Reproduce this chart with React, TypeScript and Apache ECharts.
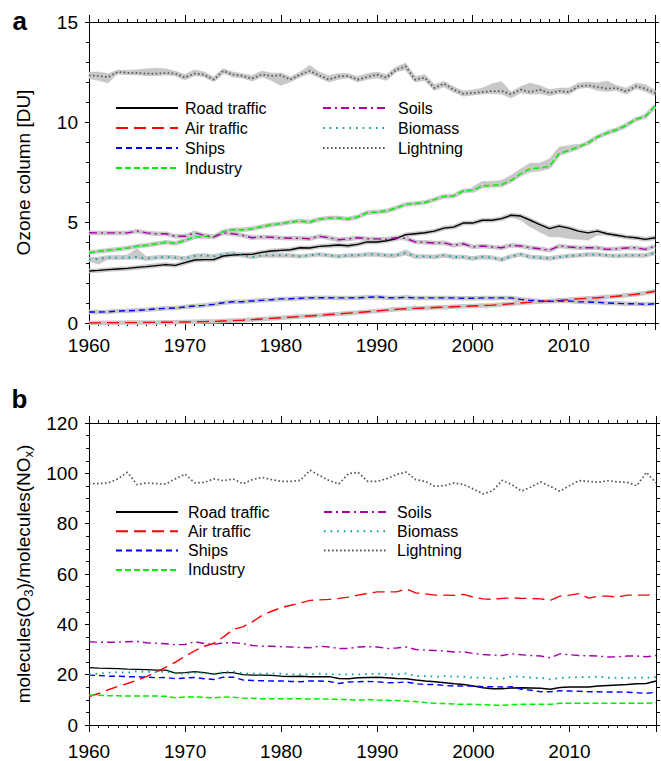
import React, { useEffect, useRef } from "react";
import * as echarts from "echarts";

const FONT = '"Liberation Sans", Arial, Helvetica, sans-serif';

// 1960 ... 2019
const years: number[] = Array.from({ length: 60 }, (_, i) => 1960 + i);

const seriesNames = ["Road traffic", "Air traffic", "Ships", "Industry", "Soils", "Biomass", "Lightning"];
const legendLeftNames = ["Road traffic", "Air traffic", "Ships", "Industry"];
const legendRightNames = ["Soils", "Biomass", "Lightning"];

// ---- Panel a: ozone column [DU] ----
const roadA = [
  2.59, 2.62, 2.66, 2.69, 2.72, 2.77, 2.81, 2.86, 2.91, 2.87,
  3.01, 3.14, 3.16, 3.16, 3.34, 3.39, 3.41, 3.42, 3.52, 3.59,
  3.62, 3.65, 3.75, 3.74, 3.82, 3.85, 3.89, 3.85, 3.92, 4.04,
  4.04, 4.10, 4.20, 4.40, 4.45, 4.50, 4.58, 4.73, 4.78, 4.98,
  4.98, 5.12, 5.12, 5.20, 5.37, 5.33, 5.12, 4.90, 4.70, 4.83,
  4.73, 4.58, 4.49, 4.58, 4.45, 4.37, 4.29, 4.25, 4.17, 4.25,
];
const airA = [
  0.00, 0.00, 0.01, 0.01, 0.02, 0.02, 0.03, 0.03, 0.04, 0.04,
  0.05, 0.06, 0.07, 0.08, 0.10, 0.12, 0.14, 0.17, 0.20, 0.23,
  0.26, 0.29, 0.32, 0.35, 0.38, 0.42, 0.45, 0.49, 0.52, 0.56,
  0.60, 0.64, 0.68, 0.71, 0.73, 0.75, 0.77, 0.79, 0.81, 0.83,
  0.85, 0.87, 0.89, 0.92, 0.96, 1.00, 1.04, 1.07, 1.10, 1.13,
  1.16, 1.20, 1.23, 1.26, 1.30, 1.33, 1.38, 1.43, 1.50, 1.58,
];
const shipsA = [
  0.55, 0.55, 0.56, 0.60, 0.61, 0.63, 0.66, 0.70, 0.73, 0.75,
  0.80, 0.85, 0.88, 0.93, 1.01, 1.06, 1.06, 1.10, 1.13, 1.16,
  1.20, 1.21, 1.23, 1.25, 1.26, 1.26, 1.25, 1.25, 1.26, 1.28,
  1.30, 1.26, 1.25, 1.28, 1.25, 1.25, 1.25, 1.25, 1.25, 1.23,
  1.23, 1.25, 1.25, 1.25, 1.25, 1.18, 1.13, 1.10, 1.08, 1.10,
  1.10, 1.06, 1.05, 1.03, 1.00, 0.98, 0.96, 0.96, 0.93, 0.96,
];
const industryA = [
  3.50, 3.57, 3.62, 3.67, 3.74, 3.82, 3.87, 3.95, 4.02, 3.97,
  4.12, 4.29, 4.32, 4.29, 4.55, 4.65, 4.65, 4.70, 4.80, 4.90,
  4.95, 5.03, 5.08, 5.03, 5.17, 5.23, 5.23, 5.18, 5.28, 5.50,
  5.53, 5.58, 5.73, 5.91, 5.95, 6.00, 6.15, 6.31, 6.33, 6.58,
  6.61, 6.83, 6.86, 6.89, 7.11, 7.44, 7.69, 7.72, 7.81, 8.44,
  8.60, 8.77, 8.97, 9.27, 9.47, 9.63, 9.85, 10.15, 10.30, 10.80,
];
const soilsA = [
  4.50, 4.49, 4.49, 4.49, 4.49, 4.58, 4.49, 4.45, 4.45, 4.32,
  4.32, 4.49, 4.37, 4.29, 4.49, 4.45, 4.37, 4.25, 4.29, 4.27,
  4.24, 4.22, 4.22, 4.20, 4.32, 4.25, 4.15, 4.19, 4.25, 4.20,
  4.19, 4.17, 4.25, 4.22, 4.04, 4.02, 3.99, 4.00, 3.87, 3.95,
  3.79, 3.84, 3.79, 3.75, 3.87, 3.84, 3.75, 3.70, 3.62, 3.84,
  3.79, 3.75, 3.75, 3.75, 3.67, 3.70, 3.74, 3.75, 3.67, 3.82,
];
const biomassA = [
  3.17, 3.19, 3.26, 3.26, 3.26, 3.29, 3.21, 3.26, 3.29, 3.26,
  3.21, 3.34, 3.37, 3.32, 3.42, 3.46, 3.37, 3.29, 3.37, 3.37,
  3.37, 3.37, 3.32, 3.37, 3.42, 3.37, 3.32, 3.37, 3.37, 3.42,
  3.41, 3.37, 3.37, 3.49, 3.32, 3.32, 3.29, 3.37, 3.29, 3.29,
  3.21, 3.29, 3.26, 3.16, 3.32, 3.42, 3.29, 3.26, 3.21, 3.29,
  3.34, 3.37, 3.41, 3.41, 3.37, 3.34, 3.37, 3.37, 3.37, 3.50,
];
const lightningA = [
  12.34, 12.31, 12.26, 12.51, 12.47, 12.46, 12.43, 12.43, 12.46, 12.43,
  12.23, 12.43, 12.38, 12.13, 12.56, 12.38, 12.31, 12.18, 12.38, 12.31,
  12.34, 12.13, 12.38, 12.56, 12.34, 12.13, 12.29, 12.31, 12.13, 12.26,
  12.38, 12.23, 12.62, 12.79, 12.13, 12.23, 11.71, 11.93, 11.63, 11.43,
  11.46, 11.51, 11.56, 11.56, 11.40, 11.63, 11.51, 11.63, 11.46, 11.56,
  11.51, 11.79, 11.84, 11.76, 11.68, 11.71, 11.54, 11.79, 11.68, 11.46,
];

// Ensemble ranges (min / max) in panel a
const lightningMinA = [
  12.18, 12.09, 11.96, 12.43, 12.38, 12.38, 12.34, 12.34, 12.38, 12.34,
  12.13, 12.34, 12.26, 12.04, 12.46, 12.26, 12.21, 12.06, 12.26, 12.09,
  11.84, 12.01, 12.26, 12.43, 12.23, 12.01, 12.13, 12.23, 12.01, 12.13,
  12.21, 12.09, 12.51, 12.62, 12.01, 12.09, 11.59, 11.76, 11.51, 11.30,
  11.36, 11.43, 11.43, 11.40, 11.21, 11.46, 11.40, 11.43, 11.33, 11.43,
  11.40, 11.68, 11.76, 11.59, 11.54, 11.59, 11.40, 11.68, 11.54, 11.31,
];
const lightningMaxA = [
  12.51, 12.51, 12.43, 12.59, 12.59, 12.62, 12.67, 12.71, 12.67, 12.54,
  12.39, 12.62, 12.51, 12.26, 12.67, 12.51, 12.43, 12.34, 12.56, 12.46,
  12.46, 12.26, 12.51, 12.84, 12.51, 12.34, 12.43, 12.43, 12.29, 12.43,
  12.51, 12.38, 12.76, 12.96, 12.29, 12.38, 11.88, 12.04, 11.79, 11.56,
  11.61, 11.71, 11.92, 12.04, 11.51, 11.79, 11.96, 11.84, 11.63, 11.71,
  11.71, 11.96, 12.01, 11.96, 12.06, 11.84, 11.71, 11.96, 11.88, 11.61,
];
const industryRangeYears = [2000, 2001, 2002, 2003, 2004, 2005, 2006, 2007, 2008, 2009, 2010, 2011];
const industryMinA = [6.50, 6.74, 6.78, 6.78, 7.03, 7.31, 7.52, 7.57, 7.69, 8.36, 8.52, 8.65];
const industryMaxA = [6.78, 7.06, 7.06, 7.11, 7.36, 7.69, 7.97, 7.97, 8.19, 8.77, 8.85, 8.92];
const roadRangeYears = [2003, 2004, 2005, 2006, 2007, 2008, 2009, 2010, 2011, 2012, 2013, 2014];
const roadMinA = [5.12, 5.28, 5.12, 4.78, 4.53, 4.29, 4.29, 4.20, 4.17, 4.12, 4.37, 4.38];
const roadMaxA = [5.30, 5.45, 5.42, 5.20, 4.98, 4.78, 4.87, 4.78, 4.65, 4.57, 4.62, 4.52];
const biomassRangeYears = [1960, 1961, 1962, 1963, 1964, 1965, 1966, 1967];
const biomassMinA = [3.08, 2.93, 3.18, 3.19, 3.19, 3.22, 3.14, 3.19];
const biomassMaxA = [3.28, 3.28, 3.33, 3.33, 3.40, 3.71, 3.30, 3.33];
const biomassRangeYears2 = [1992, 1993, 1994];
const biomassMinA2 = [3.30, 3.40, 3.25];
const biomassMaxA2 = [3.45, 3.65, 3.40];

// ---- Panel b: molecules(O3)/molecules(NOx) ----
const roadB = [
  22.8, 22.6, 22.5, 22.4, 22.2, 22.1, 22.0, 21.8, 21.8, 20.6,
  20.8, 21.2, 20.8, 20.2, 20.8, 20.8, 20.0, 19.8, 19.8, 19.7,
  19.4, 19.3, 19.4, 19.2, 19.2, 19.2, 18.5, 18.4, 18.8, 18.9,
  19.0, 18.8, 18.5, 18.4, 17.9, 17.5, 17.2, 16.8, 16.4, 16.1,
  15.5, 14.8, 14.4, 14.4, 14.7, 14.8, 14.7, 14.6, 14.2, 14.9,
  15.1, 15.1, 15.1, 15.5, 15.7, 15.9, 16.1, 16.4, 16.5, 17.5,
];
const airB = [
  11.3, 12.5, 14.0, 15.3, 16.5, 17.8, 19.3, 21.0, 23.0, 25.0,
  27.3, 29.5, 31.3, 32.5, 35.0, 38.0, 39.0, 41.0, 43.5, 45.2,
  46.6, 47.6, 48.5, 49.5, 49.7, 49.9, 50.3, 50.8, 51.6, 52.3,
  52.9, 52.9, 52.9, 54.1, 52.5, 52.1, 51.6, 51.6, 51.5, 51.9,
  50.8, 50.1, 49.9, 50.3, 50.5, 50.3, 50.3, 50.1, 49.5, 51.2,
  51.6, 52.2, 50.4, 51.2, 51.2, 50.8, 51.6, 51.6, 51.6, 51.9,
];
const shipsB = [
  19.8, 19.7, 19.4, 19.4, 19.2, 19.2, 19.0, 18.8, 18.9, 18.4,
  18.7, 18.9, 18.4, 18.1, 19.0, 19.0, 17.9, 17.7, 17.6, 17.5,
  17.5, 17.3, 17.2, 17.5, 17.5, 17.3, 16.5, 17.1, 17.2, 17.3,
  17.2, 16.8, 16.8, 17.1, 16.4, 16.1, 16.1, 15.7, 15.5, 15.5,
  15.5, 15.2, 15.2, 15.1, 15.2, 14.2, 13.8, 13.2, 13.2, 13.6,
  13.5, 13.4, 13.2, 13.2, 13.1, 13.1, 13.0, 12.8, 12.6, 13.0,
];
const industryB = [
  11.9, 11.8, 11.6, 11.6, 11.5, 11.5, 11.5, 11.5, 11.4, 10.8,
  11.1, 11.1, 11.0, 10.8, 11.1, 11.0, 10.7, 10.6, 10.4, 10.4,
  10.4, 10.4, 10.4, 10.3, 10.4, 10.3, 10.2, 10.1, 9.9, 10.1,
  9.9, 9.8, 9.7, 9.5, 9.3, 8.9, 8.6, 8.5, 8.3, 8.2,
  8.2, 8.1, 7.9, 7.8, 8.1, 8.2, 8.2, 8.2, 8.2, 8.6,
  8.6, 8.6, 8.6, 8.6, 8.6, 8.6, 8.6, 8.6, 8.6, 8.9,
];
const soilsB = [
  33.1, 32.9, 32.9, 32.9, 33.1, 33.2, 32.7, 32.5, 32.3, 31.9,
  32.0, 33.1, 32.4, 32.0, 32.7, 32.7, 32.3, 31.6, 31.3, 31.3,
  31.1, 31.0, 30.8, 30.7, 31.3, 31.0, 30.4, 30.4, 31.0, 31.1,
  31.0, 30.4, 30.6, 31.0, 30.0, 29.8, 29.6, 29.4, 29.0, 29.1,
  28.4, 28.0, 27.8, 27.6, 28.3, 27.9, 27.6, 27.4, 26.7, 28.3,
  27.9, 27.6, 27.5, 27.4, 27.0, 27.1, 27.4, 27.4, 27.1, 27.6,
];
const biomassB = [
  20.1, 20.4, 20.8, 21.0, 20.8, 21.3, 21.2, 21.0, 21.3, 20.5,
  20.4, 20.8, 20.6, 20.2, 21.0, 21.3, 20.5, 20.4, 20.4, 20.4,
  20.4, 20.1, 20.1, 20.1, 20.4, 20.1, 20.1, 20.1, 20.1, 20.2,
  20.4, 20.1, 20.1, 20.5, 19.4, 19.4, 19.2, 19.4, 19.2, 19.2,
  18.8, 18.8, 18.5, 18.4, 19.2, 19.2, 18.8, 18.7, 18.1, 18.7,
  18.9, 19.0, 19.0, 19.2, 18.8, 18.7, 18.7, 18.8, 18.8, 19.0,
];
const lightningB = [
  95.9, 95.9, 96.2, 97.8, 100.4, 95.5, 96.2, 95.9, 95.8, 97.8,
  99.7, 96.2, 96.4, 97.8, 97.1, 97.8, 95.8, 97.5, 98.4, 97.5,
  96.8, 96.8, 97.2, 101.2, 99.1, 97.1, 95.8, 99.9, 100.4, 96.8,
  96.8, 97.9, 99.5, 100.5, 97.5, 96.8, 94.8, 95.1, 96.2, 95.5,
  93.8, 91.8, 93.1, 97.2, 95.5, 92.9, 94.6, 96.6, 94.8, 92.9,
  95.1, 97.1, 96.8, 96.4, 97.1, 96.6, 96.4, 95.1, 100.4, 96.2,
];

const lineLook: Record<string, { color: string; type: any; width: number }> = {
  "Road traffic": { color: "#000000", type: "solid", width: 1.4 },
  "Air traffic": { color: "#ff0000", type: [12, 6], width: 1.4 },
  Ships: { color: "#0000ff", type: [6, 4], width: 1.4 },
  Industry: { color: "#00ee00", type: [6, 3], width: 1.5 },
  Soils: { color: "#aa00aa", type: [8, 4, 2, 4], width: 1.4 },
  Biomass: { color: "#00a0a0", type: [1.6, 5], width: 1.8 },
  Lightning: { color: "#555555", type: [1.6, 2.4], width: 1.7 },
};

const BAND = "#c8c8c8";

function pairs(xs: number[], vs: number[]) {
  return xs.map((x, i) => [x, vs[i]]);
}

function mainLine(name: string, values: number[], axis: number) {
  const look = lineLook[name];
  return {
    type: "line",
    name,
    xAxisIndex: axis * 2,
    yAxisIndex: axis * 2,
    data: pairs(years, values),
    symbol: "none",
    silent: true,
    z: 4,
    lineStyle: { color: look.color, type: look.type, width: look.width, cap: "butt" },
    itemStyle: { color: look.color },
  };
}

function haloLine(name: string, values: number[]) {
  return {
    type: "line",
    name: name + " halo",
    xAxisIndex: 0,
    yAxisIndex: 0,
    data: pairs(years, values),
    symbol: "none",
    silent: true,
    z: 3,
    lineStyle: { color: BAND, width: 4.5, type: "solid" },
  };
}

function rangeBand(id: string, xs: number[], lo: number[], hi: number[]) {
  return {
    type: "custom",
    name: id,
    xAxisIndex: 0,
    yAxisIndex: 0,
    silent: true,
    z: 2,
    data: xs.map((x, i) => [x, lo[i], hi[i]]),
    encode: { x: 0, y: [1, 2] },
    renderItem: (params: any, api: any) => {
      if (params.dataIndex !== 0) return null;
      const upper = xs.map((x, i) => api.coord([x, hi[i]]));
      const lower = xs.map((x, i) => api.coord([x, lo[i]])).reverse();
      return {
        type: "polygon",
        shape: { points: upper.concat(lower) },
        style: { fill: BAND, stroke: BAND, lineWidth: 0.5 },
      };
    },
  };
}

const panelA: Record<string, number[]> = {
  "Road traffic": roadA,
  "Air traffic": airA,
  Ships: shipsA,
  Industry: industryA,
  Soils: soilsA,
  Biomass: biomassA,
  Lightning: lightningA,
};
const panelB: Record<string, number[]> = {
  "Road traffic": roadB,
  "Air traffic": airB,
  Ships: shipsB,
  Industry: industryB,
  Soils: soilsB,
  Biomass: biomassB,
  Lightning: lightningB,
};

const black = { color: "#000000", width: 1 };

function bottomX(grid: number, margin: number) {
  return {
    type: "value",
    gridIndex: grid,
    position: "bottom",
    min: 1960,
    max: 2019,
    interval: 10,
    axisLine: { show: true, onZero: false, lineStyle: black },
    axisTick: { show: true, inside: false, length: 7, lineStyle: black },
    minorTick: { show: true, splitNumber: 10, length: 3, lineStyle: black },
    axisLabel: {
      show: true,
      margin,
      fontSize: 19,
      fontFamily: FONT,
      color: "#000",
      showMaxLabel: false,
      formatter: (v: number) => String(v),
    },
    splitLine: { show: false },
  };
}
function topX(grid: number) {
  return {
    type: "value",
    gridIndex: grid,
    position: "top",
    min: 1960,
    max: 2019,
    interval: 10,
    axisLine: { show: true, onZero: false, lineStyle: black },
    axisTick: { show: true, inside: false, length: 7, lineStyle: black },
    minorTick: { show: true, splitNumber: 10, length: 3, lineStyle: black },
    axisLabel: { show: false },
    splitLine: { show: false },
  };
}

export default function App() {
  const ref = useRef<HTMLDivElement>(null);

  useEffect(() => {
    if (!ref.current) return;
    const chart = echarts.init(ref.current, undefined, { renderer: "svg" });

    const series: any[] = [];
    series.push(rangeBand("lightning range", years, lightningMinA, lightningMaxA));
    series.push(rangeBand("industry range", industryRangeYears, industryMinA, industryMaxA));
    series.push(rangeBand("road range", roadRangeYears, roadMinA, roadMaxA));
    series.push(rangeBand("biomass range", biomassRangeYears, biomassMinA, biomassMaxA));
    series.push(rangeBand("biomass range 2", biomassRangeYears2, biomassMinA2, biomassMaxA2));
    seriesNames.forEach((n) => series.push(haloLine(n, panelA[n])));
    seriesNames.forEach((n) => series.push(mainLine(n, panelA[n], 0)));
    seriesNames.forEach((n) => series.push(mainLine(n, panelB[n], 1)));

    const legendText = (padLeft: number) => ({
      fontSize: 16,
      lineHeight: 16,
      fontFamily: FONT,
      color: "#000",
      padding: [0, 0, 0, padLeft],
    });
    const legendBase = {
      orient: "vertical",
      padding: 0,
      itemWidth: 62,
      itemHeight: 14,
      selectedMode: false,
      itemStyle: { opacity: 0, borderWidth: 0 },
    };

    chart.setOption({
      animation: false,
      backgroundColor: "#ffffff",
      grid: [
        { left: 89, top: 22, width: 566, height: 301, containLabel: false },
        { left: 89, top: 423, width: 567, height: 302, containLabel: false },
      ],
      xAxis: [bottomX(0, 13), topX(0), bottomX(1, 17), topX(1)],
      yAxis: [
        {
          type: "value",
          gridIndex: 0,
          position: "left",
          min: 0,
          max: 15,
          interval: 5,
          axisLine: { show: true, onZero: false, lineStyle: black },
          axisTick: { show: true, inside: false, length: 4, lineStyle: black },
          minorTick: { show: true, splitNumber: 5, length: 3, lineStyle: black },
          axisLabel: { show: true, margin: 11, fontSize: 19, fontFamily: FONT, color: "#000" },
          splitLine: { show: false },
          name: "Ozone column [DU]",
          nameLocation: "middle",
          nameGap: 56,
          nameRotate: 90,
          nameTextStyle: { fontSize: 19, fontFamily: FONT, color: "#000" },
        },
        {
          type: "value",
          gridIndex: 0,
          position: "right",
          min: 0,
          max: 15,
          interval: 1,
          axisLine: { show: true, onZero: false, lineStyle: black },
          axisTick: { show: true, inside: false, length: 4, lineStyle: black },
          axisLabel: { show: false },
          splitLine: { show: false },
        },
        {
          type: "value",
          gridIndex: 1,
          position: "left",
          min: 0,
          max: 120,
          interval: 20,
          axisLine: { show: true, onZero: false, lineStyle: black },
          axisTick: { show: true, inside: false, length: 4, lineStyle: black },
          minorTick: { show: true, splitNumber: 4, length: 3, lineStyle: black },
          axisLabel: { show: true, margin: 11, fontSize: 19, fontFamily: FONT, color: "#000" },
          splitLine: { show: false },
          name: "{t|molecules(O}{s|3}{t|)/molecules(NO}{s|x}{t|)}",
          nameLocation: "middle",
          nameGap: 52,
          nameRotate: 90,
          nameTextStyle: {
            fontFamily: FONT,
            color: "#000",
            rich: {
              t: { fontSize: 19, fontFamily: FONT, color: "#000", lineHeight: 24 },
              s: { fontSize: 13, fontFamily: FONT, color: "#000", lineHeight: 12, verticalAlign: "bottom" },
            },
          },
        },
        {
          type: "value",
          gridIndex: 1,
          position: "right",
          min: 0,
          max: 120,
          interval: 5,
          axisLine: { show: true, onZero: false, lineStyle: black },
          axisTick: { show: true, inside: false, length: 4, lineStyle: black },
          axisLabel: { show: false },
          splitLine: { show: false },
        },
      ],
      legend: [
        { ...legendBase, left: 115, top: 100, itemGap: 4, data: legendLeftNames, textStyle: legendText(2) },
        { ...legendBase, left: 322, top: 100, itemGap: 4, data: legendRightNames, textStyle: legendText(8) },
        { ...legendBase, left: 115, top: 504, itemGap: 3.3, data: legendLeftNames, textStyle: legendText(5) },
        { ...legendBase, left: 323, top: 504, itemGap: 3.3, data: legendRightNames, textStyle: legendText(6) },
      ],
      graphic: [
        {
          type: "text",
          x: 12.5,
          y: 21,
          style: { text: "a", fontSize: 26, fontWeight: "bold", fontFamily: FONT, fill: "#000", verticalAlign: "middle" },
        },
        {
          type: "text",
          x: 11.5,
          y: 399,
          style: { text: "b", fontSize: 26, fontWeight: "bold", fontFamily: FONT, fill: "#000", verticalAlign: "middle" },
        },
      ],
      series,
    });

    return () => {
      chart.dispose();
    };
  }, []);

  return (
    <div
      ref={ref}
      style={{ position: "fixed", left: 0, top: 0, width: 661, height: 761, background: "#fff" }}
    />
  );
}
